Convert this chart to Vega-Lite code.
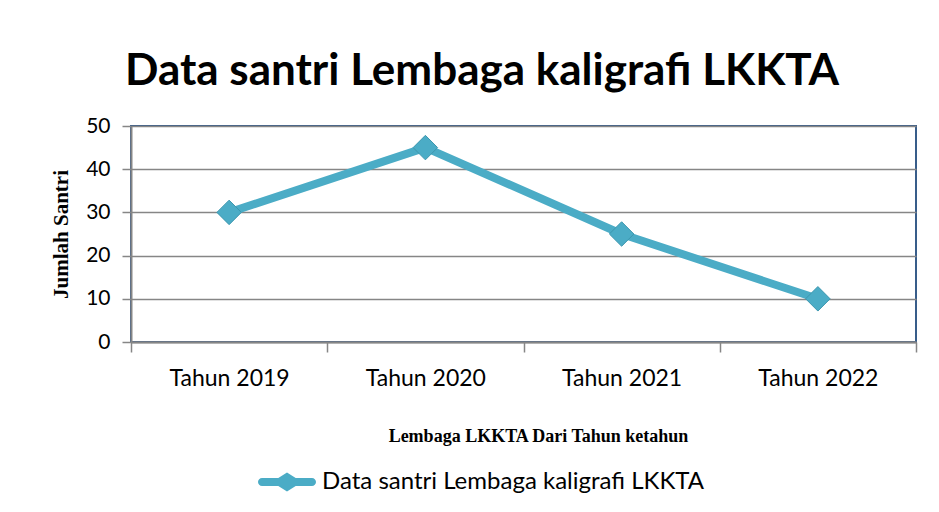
{
  "$schema": "https://vega.github.io/schema/vega-lite/v6.json",
  "width": 785,
  "height": 216,
  "autosize": {"type": "none"},
  "padding": {"left": 131, "top": 126, "right": 23, "bottom": 170},
  "background": "white",
  "title": {
    "text": "Data santri Lembaga kaligrafi LKKTA",
    "anchor": "start",
    "frame": "group",
    "dx": -6,
    "offset": -14,
    "baseline": "alphabetic",
    "font": "Lato",
    "fontSize": 44,
    "fontWeight": "bold",
    "color": "#000000"
  },
  "data": {
    "values": [
      {"tahun": "Tahun 2019", "jumlah": 30, "seri": "Data santri Lembaga kaligrafi LKKTA"},
      {"tahun": "Tahun 2020", "jumlah": 45, "seri": "Data santri Lembaga kaligrafi LKKTA"},
      {"tahun": "Tahun 2021", "jumlah": 25, "seri": "Data santri Lembaga kaligrafi LKKTA"},
      {"tahun": "Tahun 2022", "jumlah": 10, "seri": "Data santri Lembaga kaligrafi LKKTA"}
    ]
  },
  "encoding": {
    "x": {
      "field": "tahun",
      "type": "nominal",
      "sort": null,
      "scale": {"paddingInner": 0, "paddingOuter": 0},
      "axis": {
        "title": "Lembaga LKKTA Dari Tahun ketahun",
        "titleFont": "Liberation Serif",
        "titleFontSize": 18,
        "titleFontWeight": "bold",
        "titleColor": "#000000",
        "titleX": 407,
        "titleY": 99,
        "titleBaseline": "alphabetic",
        "labelAngle": 0,
        "labelFont": "Lato",
        "labelFontSize": 23,
        "labelColor": "#000000",
        "labelPadding": 15,
        "tickBand": "extent",
        "tickSize": 10,
        "tickColor": "#868686",
        "tickWidth": 1.5,
        "domainColor": "#868686",
        "domainWidth": 2,
        "grid": false
      }
    },
    "y": {
      "field": "jumlah",
      "type": "quantitative",
      "scale": {"domain": [0, 50], "nice": false},
      "axis": {
        "title": "Jumlah Santri",
        "titleFont": "Liberation Serif",
        "titleFontSize": 21,
        "titleFontWeight": "bold",
        "titleColor": "#000000",
        "titlePadding": 14,
        "values": [0, 10, 20, 30, 40, 50],
        "labelFont": "Lato",
        "labelFontSize": 21,
        "labelColor": "#000000",
        "labelPadding": 12,
        "tickSize": 9,
        "tickColor": "#868686",
        "tickWidth": 1.5,
        "domainColor": "#868686",
        "domainWidth": 2,
        "grid": true,
        "gridColor": "#868686",
        "gridWidth": 1.5
      }
    },
    "color": {
      "field": "seri",
      "type": "nominal",
      "scale": {"range": ["#4BACC6"]},
      "legend": {
        "title": null,
        "orient": "none",
        "legendX": 127,
        "legendY": 327,
        "padding": 0,
        "symbolType": "M-0.86,-0.14 L-0.3,-0.14 L0,-0.33 L0.3,-0.14 L0.86,-0.14 A0.14,0.14 0 0 1 0.86,0.14 L0.3,0.14 L0,0.33 L-0.3,0.14 L-0.86,0.14 A0.14,0.14 0 0 1 -0.86,-0.14 Z",
        "symbolSize": 3364,
        "symbolStrokeWidth": 0,
        "labelFont": "Lato",
        "labelFontSize": 24,
        "labelColor": "#000000",
        "labelOffset": 6,
        "labelLimit": 600,
        "encode": {
          "symbols": {"update": {"fill": {"value": "#4BACC6"}, "stroke": {"value": "#4BACC6"}, "strokeWidth": {"value": 0}, "opacity": {"value": 1}}}
        }
      }
    }
  },
  "layer": [
    {
      "mark": {"type": "line", "strokeWidth": 8, "strokeCap": "round", "strokeJoin": "round"}
    },
    {
      "mark": {"type": "point", "shape": "diamond", "filled": true, "size": 600, "opacity": 1, "stroke": "#3d97af", "strokeWidth": 1}
    }
  ],
  "config": {
    "view": {"stroke": "#385D8A", "strokeWidth": 2}
  }
}
